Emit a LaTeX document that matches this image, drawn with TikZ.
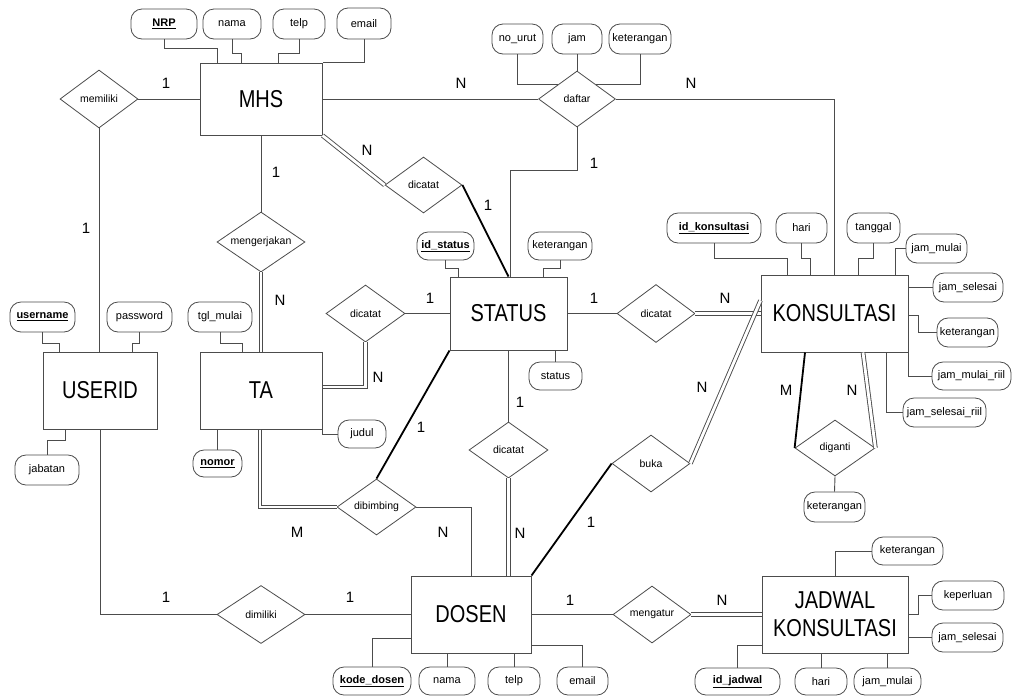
\documentclass[tikz,border=0pt]{standalone}
\usepackage{graphicx}
\usepackage{fontspec}
\setmainfont{Liberation Sans}
\usetikzlibrary{shapes.geometric}
\definecolor{lc}{gray}{0.3}
\newcommand{\keyattr}[1]{\underline{\textbf{#1}}}
\newcommand{\tallname}[1]{\scalebox{1}[1.22]{#1}}

\begin{document}
\begin{tikzpicture}[x=1pt,y=-1pt,
  entity/.style={draw=lc,line width=1pt,inner sep=0pt,minimum width=122,minimum height=77,font=\fontsize{20}{28}\selectfont,align=center},
  rel/.style={diamond,draw=lc,line width=0.8pt,aspect=1.4,inner sep=0pt,minimum width=78,minimum height=57,font=\fontsize{10.5}{12}\selectfont},
  attr/.style={draw=lc,line width=0.8pt,rounded corners=11pt,inner sep=0pt,minimum height=29,font=\fontsize{11}{12}\selectfont},
  card/.style={font=\fontsize{15}{16}\selectfont},
  link/.style={draw=lc,line width=0.9pt},
  dbl/.style={draw=lc,line width=0.9pt,double,double distance=2.8pt},
  strong/.style={draw=black,line width=1.8pt}]
\path[fill=white] (0,0) rectangle (1012,697);
\useasboundingbox (0,0) rectangle (1012,697);

% entities
\node[entity,minimum height=72] (mhs) at (261,99) {\tallname{MHS}};
\node[entity,minimum width=114] (userid) at (100,390.5) {\tallname{USERID}};
\node[entity] (ta) at (261,390.5) {\tallname{TA}};
\node[entity,minimum width=117,minimum height=73] (status) at (508.5,313.5) {\tallname{STATUS}};
\node[entity,minimum width=147] (kons) at (834.5,313.5) {\tallname{KONSULTASI}};
\node[entity,minimum width=120] (dosen) at (471,614.5) {\tallname{DOSEN}};
\node[entity,minimum width=146] (jadwal) at (835,614.5) {\tallname{JADWAL}\\\tallname{KONSULTASI}};

% relationships
\node[rel,minimum height=58] (memiliki) at (99,99) {memiliki};
\node[rel,minimum width=77,minimum height=56] (daftar) at (577,99) {daftar};
\node[rel,minimum width=77,minimum height=56] (dicatatA) at (423.5,185) {dicatat};
\node[rel,minimum width=88,minimum height=60] (mengerjakan) at (261,242) {mengerjakan};
\node[rel,minimum width=79] (dicatatB) at (365.5,313.5) {dicatat};
\node[rel,minimum height=58] (dicatatC) at (656,313.5) {dicatat};
\node[rel,minimum width=79,minimum height=56] (dicatatD) at (508.5,450) {dicatat};
\node[rel] (buka) at (651,463.5) {buka};
\node[rel,minimum width=80,minimum height=56] (diganti) at (835,448) {diganti};
\node[rel,minimum width=79,minimum height=56] (dibimbing) at (376.5,507) {dibimbing};
\node[rel,minimum width=88,minimum height=58] (dimiliki) at (261,614.5) {dimiliki};
\node[rel] (mengatur) at (652,614.5) {mengatur};

% attributes
\node[attr,minimum width=66,minimum height=30] (nrp) at (164,24) {\keyattr{NRP}};
\node[attr,minimum width=58,minimum height=30] (mnama) at (232,24) {nama};
\node[attr,minimum width=52,minimum height=30] (mtelp) at (299,24) {telp};
\node[attr,minimum width=54,minimum height=31] (memail) at (364,23.5) {email};
\node[attr,minimum width=51,minimum height=30] (nourut) at (517.5,39) {no\_urut};
\node[attr,minimum width=50,minimum height=30] (jam) at (577,39) {jam};
\node[attr,minimum width=62,minimum height=30] (dket) at (640,39) {keterangan};
\node[attr,minimum width=65,minimum height=30] (username) at (42.5,317) {\keyattr{username}};
\node[attr,minimum width=65,minimum height=30] (password) at (139.5,317) {password};
\node[attr,minimum width=64,minimum height=30] (jabatan) at (47,470) {jabatan};
\node[attr,minimum width=64,minimum height=30] (tglmulai) at (220,317) {tgl\_mulai};
\node[attr,minimum width=49,minimum height=27] (nomor) at (217.5,463.5) {\keyattr{nomor}};
\node[attr,minimum width=48,minimum height=28] (judul) at (362,434) {judul};
\node[attr,minimum width=57,minimum height=28] (idstatus) at (445.5,246) {\keyattr{id\_status}};
\node[attr,minimum width=64,minimum height=28] (sket) at (560,246) {keterangan};
\node[attr,minimum width=53,minimum height=28] (sstatus) at (555.5,376) {status};
\node[attr,minimum width=94,minimum height=30] (idkons) at (714,228) {\keyattr{id\_konsultasi}};
\node[attr,minimum width=51,minimum height=30] (khari) at (801.5,228) {hari};
\node[attr,minimum width=53,minimum height=30] (tanggal) at (873.5,228) {tanggal};
\node[attr,minimum width=61] (kjammulai) at (936.5,248.5) {jam\_mulai};
\node[attr,minimum width=70] (kjamselesai) at (968,287.5) {jam\_selesai};
\node[attr,minimum width=61] (kket) at (967.5,332.5) {keterangan};
\node[attr,minimum width=79,minimum height=28] (jammulairiil) at (971.5,376) {jam\_mulai\_riil};
\node[attr,minimum width=83] (jamselesairiil) at (944.5,412.5) {jam\_selesai\_riil};
\node[attr,minimum width=61,minimum height=30] (gket) at (834.5,507) {keterangan};
\node[attr,minimum width=78,minimum height=28] (kodedosen) at (372,681) {\keyattr{kode\_dosen}};
\node[attr,minimum width=56,minimum height=28] (dnama) at (447,681) {nama};
\node[attr,minimum width=52,minimum height=28] (dtelp) at (514,681) {telp};
\node[attr,minimum width=51,minimum height=28] (demail) at (582.5,681) {email};
\node[attr,minimum width=71,minimum height=28] (jket) at (907.5,551) {keterangan};
\node[attr,minimum width=72] (keperluan) at (968,595.5) {keperluan};
\node[attr,minimum width=71] (jjamselesai) at (967.5,637.5) {jam\_selesai};
\node[attr,minimum width=85,minimum height=27] (idjadwal) at (737.5,681.5) {\keyattr{id\_jadwal}};
\node[attr,minimum width=52,minimum height=27] (jhari) at (821,681.5) {hari};
\node[attr,minimum width=67,minimum height=27] (jjammulai) at (887.5,681.5) {jam\_mulai};

% cardinalities
\node[card] (c1) at (166,83) {1};
\node[card] (c2) at (86,228) {1};
\node[card] (c3) at (461,83) {N};
\node[card] (c4) at (691,83) {N};
\node[card] (c5) at (594,163) {1};
\node[card] (c6) at (367,150) {N};
\node[card] (c7) at (488,205) {1};
\node[card] (c8) at (276,172) {1};
\node[card] (c9) at (280,300) {N};
\node[card] (c10) at (430,298) {1};
\node[card] (c11) at (378,377) {N};
\node[card] (c12) at (594,298) {1};
\node[card] (c13) at (725,298) {N};
\node[card] (c14) at (520,402) {1};
\node[card] (c15) at (520,533) {N};
\node[card] (c16) at (421,427) {1};
\node[card] (c17) at (297,532) {M};
\node[card] (c18) at (443,532) {N};
\node[card] (c19) at (591,522) {1};
\node[card] (c20) at (702,387) {N};
\node[card] (c21) at (786,390) {M};
\node[card] (c22) at (852,390) {N};
\node[card] (c23) at (166,597) {1};
\node[card] (c24) at (350,597) {1};
\node[card] (c25) at (570,600) {1};
\node[card] (c26) at (722,600) {N};

% attribute links
\draw[link] (nrp.south) -- ++(0,9) -| (217,0 |- mhs.north);
\draw[link] (mnama.south) -- ++(0,14) -| (241,0 |- mhs.north);
\draw[link] (mtelp.south) -- ++(0,14) -| (278,0 |- mhs.north);
\draw[link] (memail.south) |- (mhs.north east);
\draw[link] (nourut.south) |- (daftar.north west);
\draw[link] (jam.south) -- (daftar.north);
\draw[link] (dket.south) |- (daftar.north east);
\draw[link] (username.south) -- ++(0,11) -| (59,0 |- userid.north);
\draw[link] (password.south) -- ++(0,11) -| (132,0 |- userid.north);
\draw[link] (jabatan.north) -- ++(0,-14) -| (65,0 |- userid.south);
\draw[link] (tglmulai.south) -- ++(0,11) -| (242,0 |- ta.north);
\draw[link] (nomor.north) -- (nomor.north |- ta.south);
\draw[link] (ta.south east) |- (judul.west);
\draw[link] (idstatus.south) -- ++(0,8) -| (458,0 |- status.north);
\draw[link] (sket.south) -- ++(0,8) -| (543,0 |- status.north);
\draw[link] (sstatus.north) -- (sstatus.north |- status.south);
\draw[link] (idkons.south) -- ++(0,15) -| (787,0 |- kons.north);
\draw[link] (khari.south) -- ++(0,15) -| (810,0 |- kons.north);
\draw[link] (tanggal.south) -- ++(0,15) -| (858,0 |- kons.north);
\draw[link] (kjammulai.west) -| (895,0 |- kons.north);
\draw[link] (kjamselesai.west) -- (kjamselesai.west -| kons.east);
\draw[link] (kket.west) -- ++(-18,0) |- (kons.east |- 0,315);
\draw[link] (kons.south east) |- (jammulairiil.west);
\draw[link] (886,0 |- kons.south) |- (jamselesairiil.west);
\draw[link] (diganti.south) -- (gket.north);
\draw[link] (dosen.west |- 0,638) -| (kodedosen.north);
\draw[link] (dnama.north) -- (dnama.north |- dosen.south);
\draw[link] (dtelp.north) -- (dtelp.north |- dosen.south);
\draw[link] (dosen.east |- 0,645) -| (demail.north);
\draw[link] (jket.west) -| (jadwal.north);
\draw[link] (keperluan.west) -- ++(-13,0) |- (jadwal.east);
\draw[link] (jjamselesai.west) -- (jjamselesai.west -| jadwal.east);
\draw[link] (jadwal.west |- 0,645) -| (idjadwal.north);
\draw[link] (jhari.north) -- (jhari.north |- jadwal.south);
\draw[link] (jjammulai.north) -- (jjammulai.north |- jadwal.south);

% relationship links
\draw[link] (memiliki.east) -- (mhs.west);
\draw[link] (memiliki.south) -- (memiliki.south |- userid.north);
\draw[link] (mhs.east) -- (daftar.west);
\draw[link] (daftar.east) -| (kons.north);
\draw[link] (daftar.south) -- ++(0,43) -| (510,0 |- status.north);
\draw[dbl] (mhs.south east) -- (dicatatA.west);
\draw[strong] (dicatatA.east) -- (status.north);
\draw[link] (mhs.south) -- (mengerjakan.north);
\draw[dbl] (mengerjakan.south) -- (ta.north);
\draw[link] (userid.south) |- (dimiliki.west);
\draw[link] (dimiliki.east) -- (dosen.west);
\draw[dbl] (ta.east |- 0,387) -| (dicatatB.south);
\draw[link] (dicatatB.east) -- (status.west);
\draw[dbl] (260,0 |- ta.south) |- (dibimbing.west);
\draw[strong] (dibimbing.north) -- (status.south west);
\draw[link] (dibimbing.east) -| (dosen.north);
\draw[link] (status.east) -- (dicatatC.west);
\draw[dbl] (dicatatC.east) -- (kons.west);
\draw[link] (status.south) -- (dicatatD.north);
\draw[dbl] (dicatatD.south) -- (dicatatD.south |- dosen.north);
\draw[strong] (dosen.north east) -- (buka.west);
\draw[dbl] (buka.east) -- (kons.170);
\draw[strong] (805,0 |- kons.south) -- (diganti.west);
\draw[dbl] (863,0 |- kons.south) -- (diganti.east);
\draw[link] (dosen.east) -- (mengatur.west);
\draw[dbl] (mengatur.east) -- (jadwal.west);
\end{tikzpicture}
\end{document}
